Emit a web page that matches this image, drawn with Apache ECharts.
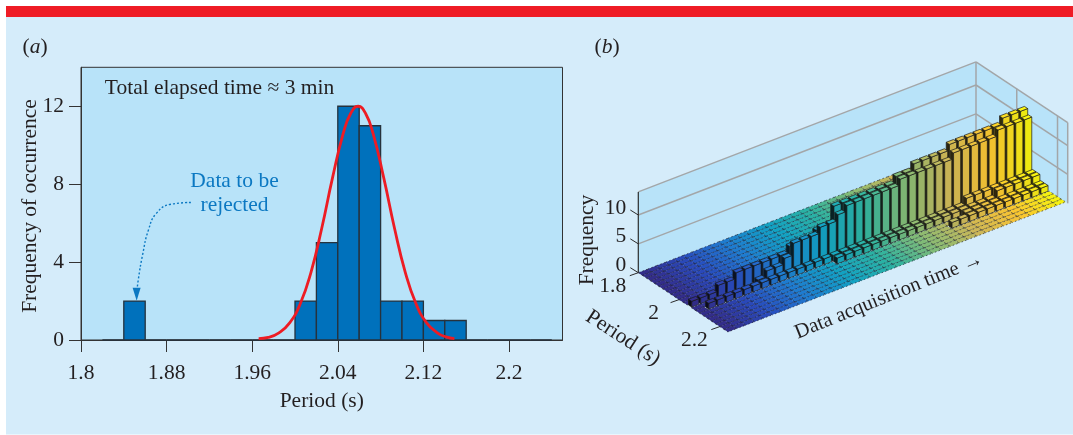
<!DOCTYPE html>
<html><head><meta charset="utf-8">
<style>html,body{margin:0;padding:0;background:#fff}#chart{width:1073px;height:435px}</style>
<script src="https://cdn.jsdelivr.net/npm/echarts@6/dist/echarts.min.js"></script>
</head><body><div id="chart"></div>
<script>
// ---------- panel (a) data ----------
const histBinStarts = [1.82,1.84,1.86,1.88,1.90,1.92,1.94,1.96,1.98,2.00,2.02,2.04,2.06,2.08,2.10,2.12,2.14,2.16,2.18,2.20,2.22];
const histCounts    = [0,2,0,0,0,0,0,0,0,2,5,12,11,2,2,1,1,0,0,0,0];
const histBinWidth = 0.02;
const fitX = [1.966,1.975,1.985,1.995,2.005,2.015,2.025,2.035,2.045,2.052,2.059,2.066,2.073,2.083,2.093,2.103,2.113,2.123,2.133,2.141,2.149];
const fitY = [0.07,0.13,0.37,0.88,1.87,3.49,5.74,8.31,10.59,11.63,12.0,11.63,10.59,8.31,5.74,3.49,1.87,0.88,0.37,0.16,0.07];
const arrowX = [1.9027,1.884,1.8704,1.863,1.8578,1.8535,1.852];
const arrowY = [7.06,6.97,6.5,5.64,4.44,3.08,2.35];
const xTicksA = [1.8,1.88,1.96,2.04,2.12,2.2];
const yTicksA = [0,4,8,12];

// ---------- panel (b) data: cumulative counts per time step, by period bin ----------
const timeSteps = 38;
const periodBinsB = [1.80,1.82,1.84,1.86,1.88,1.90,1.92,1.94,1.96,1.98,2.00,2.02,2.04,2.06,2.08,2.10,2.12,2.14,2.16,2.18,2.20,2.22];
const cum200 = [0,0,0,0,0,0,0,0,0,0,0,0,0,0,0,0,0,0,0,1,1,1,1,1,1,1,1,1,1,2,2,2,2,2,2,2,2,2];
const cum202 = [0,0,0,0,0,0,0,0,0,0,0,1,1,1,1,1,2,2,2,2,2,3,3,3,3,3,4,4,4,4,4,4,4,5,5,5,5,5];
const cum204 = [1,1,1,2,2,3,3,3,3,3,3,4,4,4,5,5,8,8,8,8,8,8,8,9,9,10,10,10,10,11,11,11,11,11,11,12,12,12];
const cum206 = [0,0,0,0,0,0,0,1,2,2,3,5,5,5,6,6,7,8,8,8,8,8,8,9,9,9,9,9,9,10,10,10,10,10,11,11,11,11];
const cum208 = [0,1,1,1,1,1,1,1,1,1,1,1,1,1,1,1,1,1,1,1,1,1,1,1,1,1,1,1,1,1,2,2,2,2,2,2,2,2];
const cum210 = [0,0,0,0,0,0,0,0,0,0,0,0,0,0,0,1,1,1,1,1,1,1,1,1,1,1,1,1,1,1,1,1,1,2,2,2,2,2];
const cum212 = [0,0,0,0,0,0,0,0,0,0,0,0,0,0,0,0,0,0,0,0,0,0,0,0,0,0,0,0,0,1,1,1,1,1,1,1,1,1];
const cum214 = [0,0,0,0,0,0,0,0,0,0,0,0,0,0,0,0,0,0,0,0,0,0,0,0,0,0,0,1,1,1,1,1,1,1,1,1,1,1];
const zTicksB = [0,5,10];
const pTicksB = [1.8,2,2.2];
const parula = ['#352A87','#2A4CC0','#1F7FD4','#12A4C8','#2EB7A4','#87BF77','#D1BB59','#FEC832','#F9FB0E'];

const rowsByBin = {2.00:cum200,2.02:cum202,2.04:cum204,2.06:cum206,2.08:cum208,2.10:cum210,2.12:cum212,2.14:cum214};

// oblique view of (period, time step, count) into the hidden helper axes of grid 1
const P_MIN = 1.8, P_MAX = 2.25, Z_TOP = 14;
function view(p,t,z){
  return [203.8*(p-P_MIN)+(337.7/timeSteps)*t, -134.7*(p-P_MIN)+(130/timeSteps)*t+5.77*z];
}
function hexToRgb(h){return [1,3,5].map(i=>parseInt(h.substr(i,2),16));}
function timeColor(t){
  const f=(t-0.5)/timeSteps*(parula.length-1), i=Math.min(Math.floor(f),parula.length-2), k=f-i;
  const a=hexToRgb(parula[i]), b=hexToRgb(parula[i+1]);
  return a.map((v,j)=>v+(b[j]-v)*k);
}
const rgb=(c,m)=>'rgb('+c.map(v=>Math.round(v*m)).join(',')+')';

// painter's order: rear period bins first, later time first
const barData=[];
periodBinsB.forEach(p=>{
  const row=rowsByBin[p.toFixed(2)*1];
  for(let t=timeSteps;t>=1;t--) barData.push([p,t,row?row[t-1]:0]);
});

function renderBar(params,api){
  const p=api.value(0), t=api.value(1), h=api.value(2);
  const pt=(a,b,z)=>api.coord(view(a,b,z));
  const c=timeColor(t);
  const poly=(pts,fill,stroke,lw,dash)=>({type:'polygon',shape:{points:pts},style:{fill:fill,stroke:stroke,lineWidth:lw,lineDash:dash||null}});
  if(h===0){
    const a=p,b=p+0.02,s=t-1,e=t;
    return poly([pt(a,s,0),pt(b,s,0),pt(b,e,0),pt(a,e,0)],rgb(c,0.98),'rgba(15,15,30,0.75)',0.8,[1.6,2.2]);
  }
  const a=p+0.002,b=p+0.018,s=t-1+0.1,e=t-0.1;
  return {type:'group',children:[
    poly([pt(a,s,0),pt(b,s,0),pt(b,s,h),pt(a,s,h)],rgb(c,0.2),'#1a1a1a',0.7),
    poly([pt(b,s,0),pt(b,e,0),pt(b,e,h),pt(b,s,h)],rgb(c,0.95),'#1a1a1a',0.7),
    poly([pt(a,s,h),pt(b,s,h),pt(b,e,h),pt(a,e,h)],rgb(c,1),'#1a1a1a',0.7)
  ]};
}

const fs=21.5;
function renderFrame(params,api){
  const pt=(p,t,z)=>api.coord(view(p,t,z));
  const T=timeSteps, kids=[];
  const line=(a,b,col,w)=>kids.push({type:'line',shape:{x1:a[0],y1:a[1],x2:b[0],y2:b[1]},style:{stroke:col,lineWidth:w}});
  const wall=(pts)=>kids.push({type:'polygon',shape:{points:pts},style:{fill:'#B8E3F9'}});
  wall([pt(P_MIN,0,0),pt(P_MIN,T,0),pt(P_MIN,T,Z_TOP),pt(P_MIN,0,Z_TOP)]);
  wall([pt(P_MIN,T,0),pt(P_MAX,T,0),pt(P_MAX,T,Z_TOP),pt(P_MIN,T,Z_TOP)]);
  const grid='#A3A6A8';
  [5,10,Z_TOP].forEach(z=>{
    line(pt(P_MIN,0,z),pt(P_MIN,T,z),grid,1.5);
    line(pt(P_MIN,T,z),pt(P_MAX,T,z),grid,1.5);
  });
  [P_MIN,2,2.2,P_MAX].forEach(p=>line(pt(p,T,0),pt(p,T,Z_TOP),grid,1.5));
  const ink='#2b2b2b';
  line(pt(P_MIN,0,0),pt(P_MIN,0,Z_TOP),ink,1.2);
  const txt=(s,x,y,rot,align)=>kids.push({type:'text',x:x,y:y,rotation:rot||0,style:{text:s,font:fs+'px "Liberation Serif"',fill:'#231F20',align:align||'center',verticalAlign:'middle'}});
  zTicksB.forEach(z=>{
    const o=pt(P_MIN,0,z);
    line(o,[o[0]-8,o[1]-5],ink,1);
    txt(String(z),o[0]-12,o[1]-7,0,'right');
  });
  pTicksB.forEach(p=>{
    const o=pt(p,0,0);
    line(o,[o[0]-8.5,o[1]+3],ink,1);
    txt(String(p),o[0]-25.5,o[1]+14);
  });
  return {type:'group',children:kids};
}

const label=(text,x,y,extra)=>Object.assign({type:'text',x:x,y:y,z:100,silent:true,style:Object.assign({text:text,font:fs+'px "Liberation Serif"',fill:'#231F20',align:'center',verticalAlign:'middle'},extra&&extra.style||{})},extra&&extra.el||{});
const italicRich={i:{font:'italic '+fs+'px "Liberation Serif"',fill:'#231F20'}};

const chart=echarts.init(document.getElementById('chart'),null,{renderer:'canvas'});
chart.setOption({
  animation:false,
  backgroundColor:'#ffffff',
  graphic:[
    {type:'rect',z:-10,silent:true,shape:{x:6,y:17,width:1067,height:417.5},style:{fill:'#D5ECFA'}},
    {type:'rect',z:-9,silent:true,shape:{x:6,y:6,width:1067,height:11},style:{fill:'#EF1C25'}},
    label('({i|a})',35,47,{style:{rich:italicRich}}),
    label('({i|b})',607,47,{style:{rich:italicRich}}),
    label('Total elapsed time ≈ 3 min',219.5,88),
    label('Data to be',234.5,181,{style:{fill:'#0B78C2'}}),
    label('rejected',234.5,205,{style:{fill:'#0B78C2'}}),
    label('Frequency of occurrence',30,206,{el:{rotation:Math.PI/2}}),
    label('Frequency',587,240,{el:{rotation:Math.PI/2}}),
    label('Period (s)',623,338,{el:{rotation:-33*Math.PI/180}}),
    label('Data acquisition time →',889,296,{el:{rotation:22*Math.PI/180},style:{font:'20.5px "Liberation Serif"'}})
  ],
  grid:[
    {left:81,top:67.3,width:481.5,height:272.7,show:true,backgroundColor:'#B8E3F9',borderColor:'#333',borderWidth:1},
    {left:638.3,top:57.7,width:430,height:285,show:false}
  ],
  xAxis:[
    {gridIndex:0,type:'value',min:1.8,max:2.25,name:'Period (s)',nameLocation:'middle',nameGap:50,
     nameTextStyle:{fontFamily:'Liberation Serif',fontSize:fs,color:'#231F20'},
     splitLine:{show:false},axisLine:{lineStyle:{color:'#333',width:1}},
     axisTick:{length:12,lineStyle:{color:'#333'},customValues:xTicksA},
     axisLabel:{customValues:xTicksA,margin:22,fontFamily:'Liberation Serif',fontSize:fs,color:'#231F20',formatter:v=>String(v)}},
    {gridIndex:1,type:'value',min:0,max:430,show:false}
  ],
  yAxis:[
    {gridIndex:0,type:'value',min:0,max:14,
     splitLine:{show:false},axisLine:{show:true,lineStyle:{color:'#333',width:1}},
     axisTick:{show:true,length:12,lineStyle:{color:'#333'},customValues:yTicksA},
     axisLabel:{customValues:yTicksA,margin:17,fontFamily:'Liberation Serif',fontSize:fs,color:'#231F20'}},
    {gridIndex:1,type:'value',min:-70,max:215,show:false}
  ],
  series:[
    {type:'custom',name:'Histogram',xAxisIndex:0,yAxisIndex:0,z:2,
     data:histBinStarts.map((s,i)=>[s,histCounts[i]]),
     renderItem:(params,api)=>{
       const a=api.coord([api.value(0),0]), b=api.coord([api.value(0)+histBinWidth,api.value(1)]);
       return {type:'rect',shape:{x:a[0],y:b[1],width:b[0]-a[0],height:a[1]-b[1]},style:{fill:'#0071BC',stroke:'#26323c',lineWidth:1.3}};
     }},
    {type:'line',name:'Fit',xAxisIndex:0,yAxisIndex:0,z:3,smooth:true,showSymbol:false,
     data:fitX.map((x,i)=>[x,fitY[i]]),lineStyle:{color:'#ED1C24',width:2.8}},
    {type:'line',name:'Arrow',xAxisIndex:0,yAxisIndex:0,z:3,smooth:true,
     data:arrowX.map((x,i)=>i===arrowX.length-1?{value:[x,arrowY[i]],symbol:'triangle',symbolRotate:180,symbolSize:[8,13]}:{value:[x,arrowY[i]],symbol:'none'}),
     itemStyle:{color:'#0B78C2'},lineStyle:{color:'#0B78C2',width:1.4,type:[2,2]}},
    {type:'custom',name:'Frame3D',xAxisIndex:1,yAxisIndex:1,z:1,silent:true,clip:false,data:[[0,0]],renderItem:renderFrame},
    {type:'custom',name:'Bars3D',xAxisIndex:1,yAxisIndex:1,z:2,silent:true,clip:false,progressive:0,data:barData,
     encode:{x:3,y:3},renderItem:renderBar}
  ]
});
</script></body></html>
